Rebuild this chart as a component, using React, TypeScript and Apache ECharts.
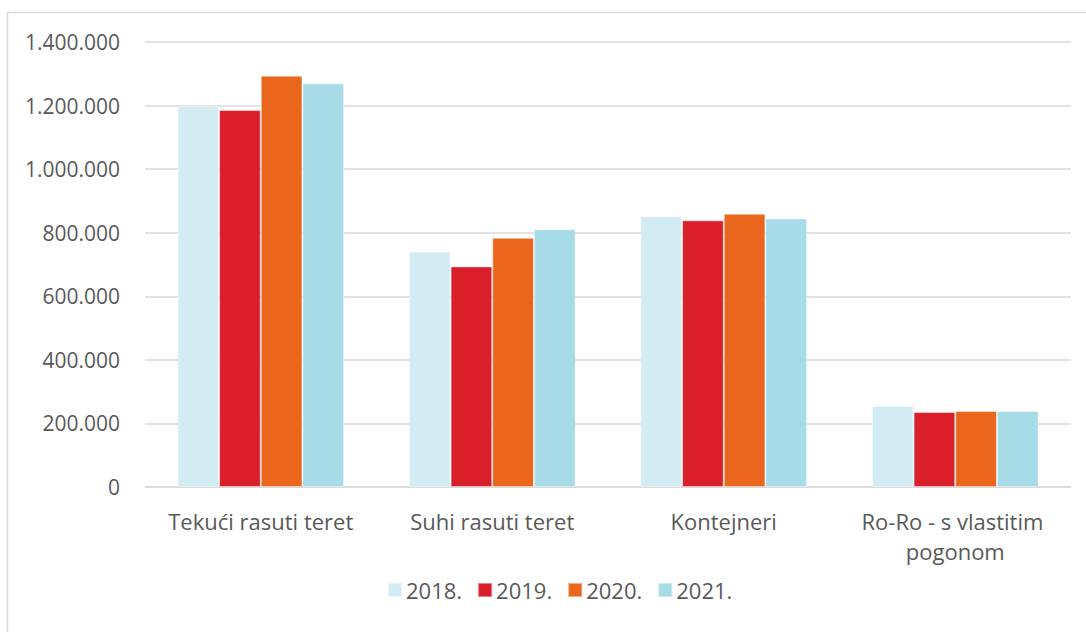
import React, { useEffect, useRef } from "react";
import * as echarts from "echarts";

const categories = ["Tekući rasuti teret", "Suhi rasuti teret", "Kontejneri", "Ro-Ro - s vlastitim pogonom"];
const years = ["2018.", "2019.", "2020.", "2021."];
const values2018 = [1198000, 741000, 852000, 255000];
const values2019 = [1186000, 694000, 839000, 236000];
const values2020 = [1294000, 784000, 860000, 239000];
const values2021 = [1270000, 811000, 845000, 239000];
const colors = ["#D3ECF3", "#D91F2A", "#EA661C", "#A8DBE8"];

const FONT = "'Open Sans', 'Liberation Sans', sans-serif";
const TEXT = "#595959";

function fmt(v: number): string {
  return String(Math.round(v)).replace(/\B(?=(\d{3})+(?!\d))/g, ".");
}

export default function App() {
  const ref = useRef<HTMLDivElement>(null);
  useEffect(() => {
    if (!ref.current) return;
    const chart = echarts.init(ref.current, undefined, { renderer: "svg" });
    const all = [values2018, values2019, values2020, values2021];
    chart.setOption({
      animation: false,
      backgroundColor: "#ffffff",
      textStyle: { fontFamily: FONT },
      graphic: [
        {
          type: "rect",
          shape: { x: 7.5, y: 12.5, width: 1200, height: 800 },
          style: { fill: "none", stroke: "#D9D9D9", lineWidth: 1.5 },
          silent: true,
          z: -1,
        },
      ],
      grid: { left: 145, right: 15, top: 42, bottom: 145, containLabel: false },
      legend: {
        left: 382,
        top: 574,
        itemWidth: 14,
        itemHeight: 14,
        itemGap: 15,
        icon: "rect",
        textStyle: { color: TEXT, fontSize: 22, fontFamily: FONT, padding: [0, 0, 0, -1] },
        data: years,
      },
      xAxis: {
        type: "category",
        data: categories,
        axisLine: { lineStyle: { color: "#D9D9D9", width: 1.5 } },
        axisTick: { show: false },
        axisLabel: {
          color: TEXT,
          fontSize: 22,
          fontFamily: FONT,
          margin: 19,
          width: 225,
          overflow: "break",
          lineHeight: 30,
          interval: 0,
        },
      },
      yAxis: {
        type: "value",
        min: 0,
        max: 1400000,
        interval: 200000,
        axisLine: { show: false },
        axisTick: { show: false },
        splitLine: { lineStyle: { color: "#D9D9D9", width: 1.5 } },
        axisLabel: {
          color: TEXT,
          fontSize: 21,
          fontFamily: FONT,
          margin: 25,
          formatter: (v: number) => fmt(v),
        },
      },
      series: years.map((y, i) => ({
        name: y,
        type: "bar",
        data: all[i],
        barGap: "0%",
        barCategoryGap: "28%",
        itemStyle: {
          color: colors[i],
          borderColor: "rgba(255,255,255,0.45)",
          borderWidth: 1,
        },
      })),
    });
    return () => chart.dispose();
  }, []);
  return (
    <div
      ref={ref}
      style={{ position: "absolute", left: 0, top: 0, width: 1086, height: 632 }}
    />
  );
}
